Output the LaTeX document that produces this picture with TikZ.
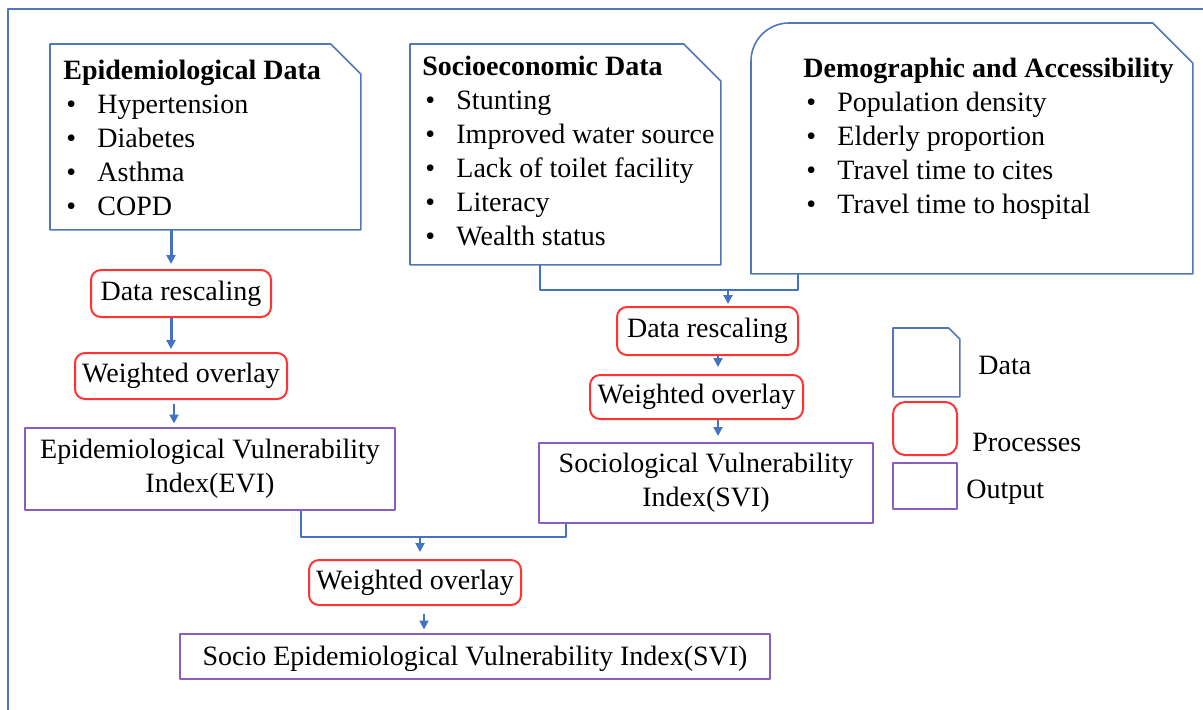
\documentclass[tikz,border=0pt]{standalone}
\usepackage{fontspec}
\setmainfont{Liberation Serif}
\usetikzlibrary{arrows.meta}
\definecolor{datablue}{HTML}{5176B9}
\definecolor{linkblue}{HTML}{4472C4}
\definecolor{procred}{HTML}{FF3535}
\definecolor{outpurple}{HTML}{8B5CC2}
\newcommand\blt{\hspace*{1.5pt}\makebox[15.5pt][l]{\textbullet}}
\newcommand\snipbox[2]{\draw[dataline] (#1.north west) -- ([xshift=-#2]#1.north east) -- ([yshift=-#2]#1.north east) -- (#1.south east) -- (#1.south west) -- cycle;}
\begin{document}
\begin{tikzpicture}[x=0.5pt,y=-0.5pt,line join=round,font=\fontsize{14pt}{17pt}\selectfont,
	dataline/.style={draw=datablue,line width=0.8pt},
	databox/.style={anchor=north west,inner sep=0pt},
	datatext/.style={anchor=north west,align=left,inner sep=0pt},
	proc/.style={draw=procred,line width=1pt,rounded corners=5pt,inner sep=0pt},
	outbox/.style={draw=outpurple,line width=1pt,inner sep=0pt,align=center},
	link/.style={draw=linkblue,line width=0.75pt},
	arr/.style={link,line width=1pt,-{Triangle[length=4.5pt,width=4.5pt]}},
	label/.style={anchor=west,inner sep=0pt}]
	\useasboundingbox (0,0) rectangle (1203,709);
	\draw[dataline] (8,9) rectangle (1215,720);
	\path
	(171,0) coordinate (x1)
	(174,0) coordinate (x2)
	(540,0) coordinate (x3)
	(798,0) coordinate (x4)
	(718,0) coordinate (x5)
	(301,0) coordinate (x6)
	(566,0) coordinate (x7)
	(424,0) coordinate (x8)
	(728,290) coordinate (j1)
	(420,537) coordinate (j2)
	;
	% data boxes
	\node[databox,minimum width=155pt,minimum height=92.5pt] (epi) at (50,44) {};
	\snipbox{epi}{15pt}
	\node[datatext] (epitxt) at (63,60)
	{\textbf{Epidemiological Data}\\ \blt Hypertension\\ \blt Diabetes\\ \blt Asthma\\ \blt COPD};
	\node[databox,minimum width=155pt,minimum height=110pt] (socio) at (410,44) {};
	\snipbox{socio}{18.5pt}
	\node[datatext] (sociotxt) at (422,56)
	{\textbf{Socioeconomic Data}\\ \blt Stunting\\ \blt Improved water source\\ \blt Lack of toilet facility\\ \blt Literacy\\ \blt Wealth status};
	\node[databox,minimum width=220.5pt,minimum height=125pt] (demo) at (751,23) {};
	\draw[dataline] (demo.south west) -- ([yshift=-19pt]demo.north west) arc[start angle=180,end angle=90,radius=19pt]
	-- ([xshift=-20pt]demo.north east) -- ([yshift=-20pt]demo.north east) -- (demo.south east) -- cycle;
	\node[datatext] (demotxt) at (803,58)
	{\textbf{Demographic and Accessibility}\\ \blt Population density\\ \blt Elderly proportion\\ \blt Travel time to cites\\ \blt Travel time to hospital};
	% processes and outputs
	\node[proc,minimum width=90pt,minimum height=23.5pt] (dr1) at (181,293.5) {Data rescaling};
	\node[proc,minimum width=106pt,minimum height=23pt] (wo1) at (181,376) {Weighted overlay};
	\node[outbox,minimum width=185pt,minimum height=41pt] (evi) at (210,468.5) {Epidemiological Vulnerability\\Index(EVI)};
	\node[proc,minimum width=90.5pt,minimum height=24pt] (dr2) at (707.5,331) {Data rescaling};
	\node[proc,minimum width=106.5pt,minimum height=22pt] (wo2) at (696.5,397) {Weighted overlay};
	\node[outbox,minimum width=167pt,minimum height=40pt] (svi) at (706,483) {Sociological Vulnerability\\Index(SVI)};
	\node[proc,minimum width=106pt,minimum height=22.5pt] (wo3) at (415,582.5) {Weighted overlay};
	\node[outbox,text depth=0pt,minimum width=295pt,minimum height=22.5pt] (sevi) at (475,656) {Socio Epidemiological Vulnerability Index(SVI)};
	% connectors
	\draw[arr,line width=1.5pt,shorten >=2.5pt] (epi.south -| x1) -- (dr1.north -| x1);
	\draw[arr,line width=1.5pt,shorten >=1.5pt] (dr1.south -| x1) -- (wo1.north -| x1);
	\draw[arr,shorten <=2pt,shorten >=1.5pt] (wo1.south -| x2) -- (evi.north -| x2);
	\draw[link] (socio.south -| x3) |- (j1 -| x4) -- (demo.south -| x4);
	\draw[arr,shorten >=1pt] (j1) -- (dr2.north -| j1);
	\draw[arr,shorten >=3.5pt] (dr2.south -| x5) -- (wo2.north -| x5);
	\draw[arr,shorten >=3pt] (wo2.south -| x5) -- (svi.north -| x5);
	\draw[link] (evi.south -| x6) |- (j2 -| x7) -- (svi.south -| x7);
	\draw[arr,shorten >=3.5pt] (j2) -- (wo3.north -| j2);
	\draw[arr,shorten <=4pt,shorten >=1.5pt] (wo3.south -| x8) -- (sevi.north -| x8);
	% legend
	\node[databox,minimum width=33pt,minimum height=34pt] (legdata) at (893,328) {};
	\snipbox{legdata}{5.5pt}
	\node[proc,rounded corners=6pt,minimum width=32pt,minimum height=26.5pt] (legproc) at (925,428.5) {};
	\node[outbox,minimum width=32pt,minimum height=23pt] (legout) at (925,486) {};
	\node[label] (legdatatxt) at (978,365) {Data};
	\node[label] (legproctxt) at (972,442) {Processes};
	\node[label] (legouttxt) at (966,492) {Output};
\end{tikzpicture}
\end{document}
